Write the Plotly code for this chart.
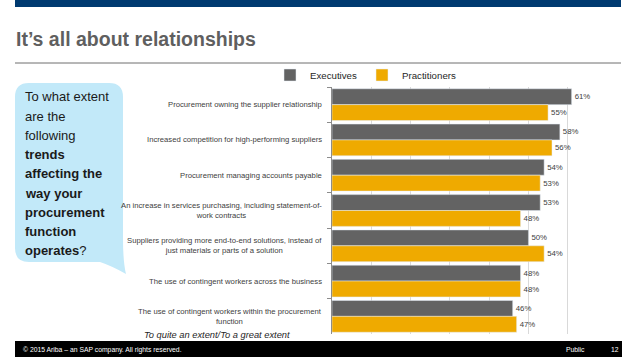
import plotly.graph_objects as go

W, H = 638, 359

categories = [
    "Procurement owning the supplier relationship",
    "Increased competition for high-performing suppliers",
    "Procurement managing accounts payable",
    "An increase in services purchasing, including statement-of-<br>work contracts",
    "Suppliers providing more end-to-end solutions, instead of<br>just materials or parts of a solution",
    "The use of contingent workers across the business",
    "The use of contingent workers within the procurement<br>function",
]
executives = [61, 58, 54, 53, 50, 48, 46]
practitioners = [55, 56, 53, 48, 54, 48, 47]
series_names = ["Executives", "Practitioners"]
bubble_lines = [
    "To what extent", "are the", "following", "<b>trends</b>",
    "<b>affecting the</b>", "<b>way your</b>", "<b>procurement</b>",
    "<b>function</b>", "<b>operates</b>?",
]

GRAY = "#636363"
GOLD = "#EFAA00"
SANS = "Liberation Sans, Arial, sans-serif"


def px(x):
    return x / W


def py(y):
    return 1 - y / H


fig = go.Figure()
fig.add_trace(go.Bar(
    y=categories, x=executives, name=series_names[0], orientation="h",
    marker=dict(color=GRAY), texttemplate="%{x}%", textposition="outside",
    textfont=dict(size=7.8, color="#404040", family=SANS), cliponaxis=False,
))
fig.add_trace(go.Bar(
    y=categories, x=practitioners, name=series_names[1], orientation="h",
    marker=dict(color=GOLD), texttemplate="%{x}%", textposition="outside",
    textfont=dict(size=7.8, color="#404040", family=SANS), cliponaxis=False,
))

shapes = []
# top band
shapes.append(dict(type="rect", xref="paper", yref="paper", x0=px(15), x1=px(621),
                   y0=py(0), y1=py(7), fillcolor="#003A70", line=dict(width=0), layer="below"))
# separator line
shapes.append(dict(type="line", xref="paper", yref="paper", x0=px(15), x1=px(621),
                   y0=py(63), y1=py(63), line=dict(color="#6E6E6E", width=1)))
# footer band
shapes.append(dict(type="rect", xref="paper", yref="paper", x0=px(15), x1=px(622),
                   y0=py(341), y1=py(357), fillcolor="#000000", line=dict(width=0), layer="below"))

# speech bubble
x0, x1, y0, y1, r = 15, 123, 83, 262, 14
pts = [
    ("M", (x0 + r, y0)), ("L", (x1 - r, y0)), ("Q", (x1, y0), (x1, y0 + r)),
    ("L", (x1, 238)), ("Q", (x1, 262), (126, 274)), ("Q", (112, 266), (100, y1)),
    ("L", (x0 + r, y1)), ("Q", (x0, y1), (x0, y1 - r)), ("L", (x0, y0 + r)),
    ("Q", (x0, y0), (x0 + r, y0)),
]
path = ""
for item in pts:
    cmd = item[0]
    coords = " ".join(f"{px(a):.5f},{py(b):.5f}" for a, b in item[1:])
    path += f"{cmd} {coords} "
path += "Z"
shapes.append(dict(type="path", xref="paper", yref="paper", path=path,
                   fillcolor="#C2E9F9", line=dict(width=0), layer="below"))

annotations = []
# title
annotations.append(dict(xref="paper", yref="paper", x=px(14), y=py(38.5), xanchor="left",
                        yanchor="middle", showarrow=False,
                        text="<b>It’s all about relationships</b>",
                        font=dict(family=SANS, size=19.5, color="#5F5F5F")))
# bubble text
for i, line in enumerate(bubble_lines):
    annotations.append(dict(xref="paper", yref="paper", x=px(23), y=py(97 + i * 19.2),
                            xanchor="left", yanchor="middle", showarrow=False, text=line,
                            font=dict(family=SANS, size=13, color="#1A1A1A")))
# category labels
for c in categories:
    annotations.append(dict(xref="paper", yref="y", x=px(324), y=c, xanchor="right",
                            yanchor="middle", align="center", showarrow=False, text=c,
                            font=dict(family=SANS, size=7.7, color="#404040")))
# italic note
annotations.append(dict(xref="paper", yref="paper", x=px(142), y=py(335), xanchor="left",
                        yanchor="middle", showarrow=False,
                        text="<i>To quite an extent/To a great extent</i>",
                        font=dict(family=SANS, size=9.3, color="#262626")))
# footer
annotations.append(dict(xref="paper", yref="paper", x=px(21), y=py(349.5), xanchor="left",
                        yanchor="middle", showarrow=False,
                        text="© 2015 Ariba – an SAP company. All rights reserved.",
                        font=dict(family=SANS, size=6.8, color="#FFFFFF")))
annotations.append(dict(xref="paper", yref="paper", x=px(564), y=py(349.5), xanchor="left",
                        yanchor="middle", showarrow=False, text="Public",
                        font=dict(family=SANS, size=6.8, color="#FFFFFF")))
annotations.append(dict(xref="paper", yref="paper", x=px(609), y=py(349.5), xanchor="left",
                        yanchor="middle", showarrow=False, text="12",
                        font=dict(family=SANS, size=6.8, color="#FFFFFF")))

fig.update_layout(
    width=W, height=H, autosize=False,
    margin=dict(l=0, r=0, t=0, b=0),
    paper_bgcolor="white", plot_bgcolor="white",
    barmode="group", bargap=0.1, bargroupgap=0,
    showlegend=True,
    legend=dict(orientation="h", x=px(270), y=py(75), xanchor="left", yanchor="middle",
                font=dict(family=SANS, size=9.7, color="#262626"),
                bgcolor="rgba(0,0,0,0)", itemwidth=30, traceorder="normal"),
    xaxis=dict(domain=[px(332), px(607)], range=[0, 70], dtick=10, showgrid=True,
               gridcolor="#D9D9D9", gridwidth=1, zeroline=False, showline=False,
               showticklabels=False, ticks=""),
    yaxis=dict(domain=[py(334), py(87)], autorange="reversed", showline=True,
               linecolor="#8C8C8C", linewidth=1, ticks="outside", ticklen=4,
               tickcolor="#8C8C8C", tickson="boundaries", showticklabels=False,
               showgrid=False),
    shapes=shapes, annotations=annotations,
    font=dict(family=SANS),
)

fig.write_html(
    "out.html",
    config={"displayModeBar": False},
    post_script="document.body.style.margin='0';document.body.style.overflow='hidden';",
)
